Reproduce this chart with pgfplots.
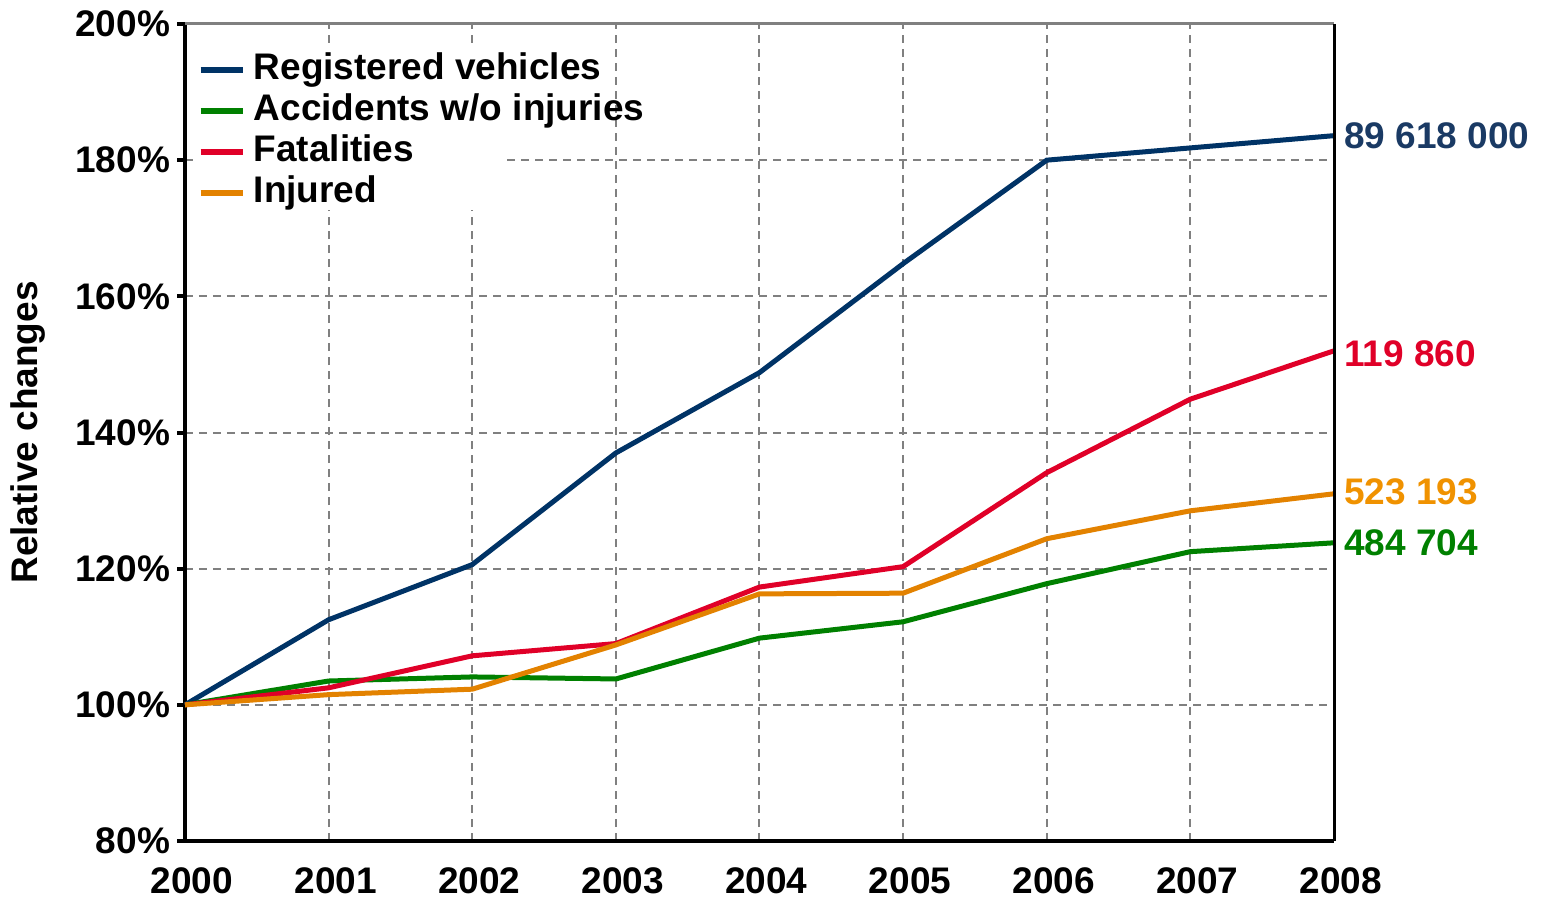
\documentclass[border=0pt]{standalone}
\usepackage{fontspec}
\setmainfont{Liberation Sans}
\usepackage{pgfplots}
\pgfplotsset{compat=1.18}
\definecolor{cblue}{RGB}{0,51,102}
\definecolor{cbluet}{RGB}{26,58,100}
\definecolor{cgreen}{RGB}{0,128,0}
\definecolor{cred}{RGB}{224,0,40}
\definecolor{corange}{RGB}{227,130,0}
\definecolor{coranget}{RGB}{240,146,0}
\definecolor{cgrid}{RGB}{128,128,128}
\newcommand{\bigf}{\fontsize{18.5}{22}\selectfont\bfseries}
\begin{document}
\begin{tikzpicture}
\begin{axis}[
  name=ax,
  scale only axis,
  width=574.5pt, height=408.5pt,
  xmin=2000, xmax=2008, ymin=80, ymax=200,
  xtick={2000,...,2008},
  ytick={80,100,...,200},
  xticklabels={2000,2001,2002,2003,2004,2005,2006,2007,2008},
  yticklabels={80\%,100\%,120\%,140\%,160\%,180\%,200\%},
  axis lines*=left,
  axis line style={line width=2pt, black},
  tick align=outside,
  ytick pos=left,
  xtick pos=bottom,
  major tick length=4pt,
  x tick style={draw=none},
  y tick style={line width=2pt, black},
  grid=major,
  major grid style={cgrid, line width=1pt, dash pattern=on 4pt off 3pt},
  ticklabel style={font=\bigf},
  xticklabel style={yshift=-6pt, xshift=3.5pt},
  /pgf/number format/assume math mode=true,
  ylabel={Relative changes},
  ylabel style={font=\bigf, at={([xshift=-78.5pt]rel axis cs:0,0.5)}, anchor=center},
  clip=false,
  legend style={at={(rel axis cs:0.009,0.969)}, anchor=north west, fill=none, draw=none,
    font=\bigf, inner sep=1pt, row sep=2pt,
    nodes={inner sep=0pt, text height=14pt, text depth=4.5pt}},
  legend cell align=left,
  legend image code/.code={\draw[#1, line width=3pt] (0pt,0pt) -- (21pt,0pt);},
  every axis plot/.append style={line width=2.5pt},
]
\fill[white] (rel axis cs:0.0087,0.972) rectangle (rel axis cs:0.2785,0.772);
\addplot[cblue] coordinates {(2000,100) (2001,112.5) (2002,120.6) (2003,137) (2004,148.8) (2005,164.8) (2006,180) (2007,181.8) (2008,183.6)};
\addlegendentry{\hspace{4pt}Registered vehicles}
\addplot[cgreen] coordinates {(2000,100) (2001,103.5) (2002,104.1) (2003,103.8) (2004,109.8) (2005,112.2) (2006,117.8) (2007,122.5) (2008,123.8)};
\addlegendentry{\hspace{4pt}Accidents w/o injuries}
\addplot[cred] coordinates {(2000,100) (2001,102.5) (2002,107.2) (2003,109) (2004,117.3) (2005,120.3) (2006,134.1) (2007,144.9) (2008,152)};
\addlegendentry{\hspace{4pt}Fatalities}
\addplot[corange] coordinates {(2000,100) (2001,101.5) (2002,102.3) (2003,108.8) (2004,116.3) (2005,116.4) (2006,124.4) (2007,128.5) (2008,131)};
\addlegendentry{\hspace{4pt}Injured}
\draw[cgrid, line width=1.5pt] (rel axis cs:0,1) -- (rel axis cs:1,1);
\draw[black, line width=1.5pt] (rel axis cs:1,0) -- (rel axis cs:1,1);
\node[anchor=west, text=cbluet, font=\bigf, xshift=1.5pt] at (axis cs:2008,183.6) {89 618 000};
\node[anchor=west, text=cred, font=\bigf, xshift=1.5pt] at (axis cs:2008,151.5) {119 860};
\node[anchor=west, text=coranget, font=\bigf, xshift=1.5pt] at (axis cs:2008,131.3) {523 193};
\node[anchor=west, text=cgreen, font=\bigf, xshift=1.5pt] at (axis cs:2008,123.8) {484 704};
\end{axis}
\path ([shift={(-92.5pt,-28.5pt)}]ax.south west) rectangle ([shift={(105pt,12pt)}]ax.north east);
\end{tikzpicture}
\end{document}
